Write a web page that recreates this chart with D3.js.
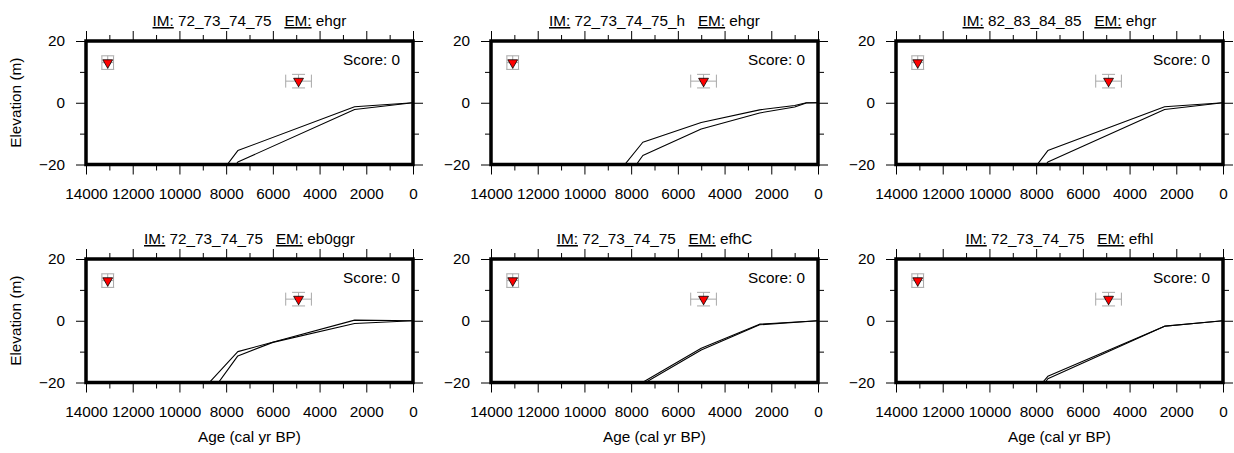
<!DOCTYPE html>
<html><head><meta charset="utf-8">
<script src="https://cdn.jsdelivr.net/npm/d3@7"></script>
<style>
body{margin:0;background:#fff;}
svg{display:block;font-family:"Liberation Sans",Arial,Helvetica,sans-serif;}
</style></head><body>
<svg id="chart" width="1234" height="453"></svg>
<script>
// ---------- data ----------
const imLabels = ["72_73_74_75","72_73_74_75_h","82_83_84_85","72_73_74_75","72_73_74_75","72_73_74_75"];
const emLabels = ["ehgr","ehgr","ehgr","eb0ggr","efhC","efhl"];
const scores = [0,0,0,0,0,0];

const obsAge = [13070, 4900];
const obsElev = [13, 7];
const obsAgeErr = [250, 550];
const obsElevErr = [2.2, 2.2];

const xMajorTicks = [14000,12000,10000,8000,6000,4000,2000,0];
const xMinorTicks = [13000,11000,9000,7000,5000,3000,1000];
const yMajorTicks = [20,0,-20];
const yMinorTicks = [10,-10];

// model curves (age cal yr BP, elevation m), two per panel
const modelA = [
  [[0,0],[2500,-1.3],[7500,-15.5],[9000,-30.5]],
  [[0,0],[500,0],[1000,-0.9],[2500,-2.3],[5000,-6.4],[7500,-12.8],[9000,-26.8]],
  [[0,0],[2500,-1.3],[7500,-15.5],[9000,-30.5]],
  [[0,0],[2500,0.2],[7500,-10.0],[9000,-22.3]],
  [[0,0],[2500,-1.1],[5000,-8.9],[7500,-19.9],[9000,-33]],
  [[0,0],[2500,-1.75],[7500,-18.0],[9000,-31.5]]
];
const modelB = [
  [[0,0],[2500,-2.2],[7500,-19.2],[9000,-34.2]],
  [[0,0],[500,-0.1],[1000,-1.4],[2500,-3.3],[5000,-8.5],[7500,-17.1],[9000,-33]],
  [[0,0],[2500,-2.2],[7500,-19.2],[9000,-34.2]],
  [[0,0],[2500,-0.9],[6000,-7.0],[7500,-11.4],[9000,-27]],
  [[0,0],[2500,-1.3],[5000,-9.5],[7500,-20.5],[9000,-34]],
  [[0,0],[2500,-1.8],[7500,-18.8],[9000,-35]]
];

// ---------- layout ----------
const colLefts = [86, 491, 896];
const rowTops = [41, 259];
const pw = 327, ph = 123.5;
const fs = 15.3;

const svg = d3.select("#chart");

for (let i = 0; i < 6; i++) {
  const col = i % 3, row = Math.floor(i / 3);
  const L = colLefts[col], T = rowTops[row];
  const x = d3.scaleLinear().domain([14000, 0]).range([L, L + pw]);
  const y = d3.scaleLinear().domain([-20, 20]).range([T + ph, T]);
  const g = svg.append("g");

  // clip
  const cid = "clip" + i;
  svg.append("clipPath").attr("id", cid).append("rect")
    .attr("x", L).attr("y", T).attr("width", pw).attr("height", ph);

  // ticks (all four sides, outward)
  const tickStyle = sel => {
    sel.select(".domain").remove();
    sel.selectAll(".tick line").attr("stroke", "#000").attr("stroke-width", 1);
    sel.selectAll("text").attr("font-size", fs).attr("font-family", "Liberation Sans, Arial, sans-serif").attr("fill", "#000");
  };
  // bottom majors with labels
  g.append("g").attr("transform", `translate(0,${T + ph})`)
    .call(d3.axisBottom(x).tickValues(xMajorTicks).tickSize(10).tickPadding(13.3).tickFormat(d3.format("d")))
    .call(tickStyle);
  g.append("g").attr("transform", `translate(0,${T + ph})`)
    .call(d3.axisBottom(x).tickValues(xMinorTicks).tickSize(6).tickFormat(""))
    .call(tickStyle);
  // top
  g.append("g").attr("transform", `translate(0,${T})`)
    .call(d3.axisTop(x).tickValues(xMajorTicks).tickSize(10).tickFormat(""))
    .call(tickStyle);
  g.append("g").attr("transform", `translate(0,${T})`)
    .call(d3.axisTop(x).tickValues(xMinorTicks).tickSize(6).tickFormat(""))
    .call(tickStyle);
  // left majors with labels
  g.append("g").attr("transform", `translate(${L},0)`)
    .call(d3.axisLeft(y).tickValues(yMajorTicks).tickSize(10).tickPadding(11).tickFormat(d => d < 0 ? "\u2212" + Math.abs(d) : d))
    .call(tickStyle);
  g.append("g").attr("transform", `translate(${L},0)`)
    .call(d3.axisLeft(y).tickValues(yMinorTicks).tickSize(6).tickFormat(""))
    .call(tickStyle);
  // right
  g.append("g").attr("transform", `translate(${L + pw},0)`)
    .call(d3.axisRight(y).tickValues(yMajorTicks).tickSize(10).tickFormat(""))
    .call(tickStyle);
  g.append("g").attr("transform", `translate(${L + pw},0)`)
    .call(d3.axisRight(y).tickValues(yMinorTicks).tickSize(6).tickFormat(""))
    .call(tickStyle);

  // model lines
  const line = d3.line().x(d => x(d[0])).y(d => y(d[1]));
  const lg = g.append("g").attr("clip-path", `url(#${cid})`);
  [modelA[i], modelB[i]].forEach(s => {
    lg.append("path").attr("d", line(s)).attr("fill", "none")
      .attr("stroke", "#000").attr("stroke-width", 1.1).attr("stroke-linejoin", "round");
  });

  // observations with error bars
  const cap = 6.5;
  obsAge.forEach((a, k) => {
    const cx = x(a), cy = y(obsElev[k]);
    const x0 = x(a + obsAgeErr[k]), x1 = x(a - obsAgeErr[k]);
    const y0 = y(obsElev[k] + obsElevErr[k]), y1 = y(obsElev[k] - obsElevErr[k]);
    const eg = lg.append("g").attr("stroke", "#a8a8a8").attr("stroke-width", 1).attr("fill", "none");
    eg.append("line").attr("x1", x0).attr("x2", x1).attr("y1", cy).attr("y2", cy);
    eg.append("line").attr("x1", x0).attr("x2", x0).attr("y1", cy - cap).attr("y2", cy + cap);
    eg.append("line").attr("x1", x1).attr("x2", x1).attr("y1", cy - cap).attr("y2", cy + cap);
    eg.append("line").attr("x1", cx).attr("x2", cx).attr("y1", y0).attr("y2", y1);
    eg.append("line").attr("x1", cx - cap).attr("x2", cx + cap).attr("y1", y0).attr("y2", y0);
    eg.append("line").attr("x1", cx - cap).attr("x2", cx + cap).attr("y1", y1).attr("y2", y1);
    lg.append("path").attr("d", d3.symbol(d3.symbolTriangle, 42)())
      .attr("transform", `translate(${cx},${cy}) rotate(180)`)
      .attr("fill", "#ff0000").attr("stroke", "#000").attr("stroke-width", 0.8);
  });

  // frame
  g.append("rect").attr("x", L).attr("y", T).attr("width", pw).attr("height", ph)
    .attr("fill", "none").attr("stroke", "#000").attr("stroke-width", 3.5);

  // score
  g.append("text").attr("x", L + pw - 13).attr("y", T + 24).attr("text-anchor", "end")
    .attr("font-size", fs).text("Score: " + scores[i]);

  // title
  const t = g.append("text").attr("x", L + pw / 2).attr("y", T - 15).attr("text-anchor", "middle")
    .attr("font-size", fs).style("white-space", "pre");
  t.append("tspan").style("text-decoration", "underline").text("IM:");
  t.append("tspan").text(" " + imLabels[i] + "   ");
  t.append("tspan").style("text-decoration", "underline").text("EM:");
  t.append("tspan").text(" " + emLabels[i]);

  // axis titles
  if (col === 0) {
    g.append("text").attr("transform", `translate(21,${T + ph / 2}) rotate(-90)`)
      .attr("text-anchor", "middle").attr("font-size", fs).text("Elevation (m)");
  }
  if (row === 1) {
    g.append("text").attr("x", L + pw / 2).attr("y", T + ph + 59).attr("text-anchor", "middle")
      .attr("font-size", fs).text("Age (cal yr BP)");
  }
}
</script>
</body></html>
